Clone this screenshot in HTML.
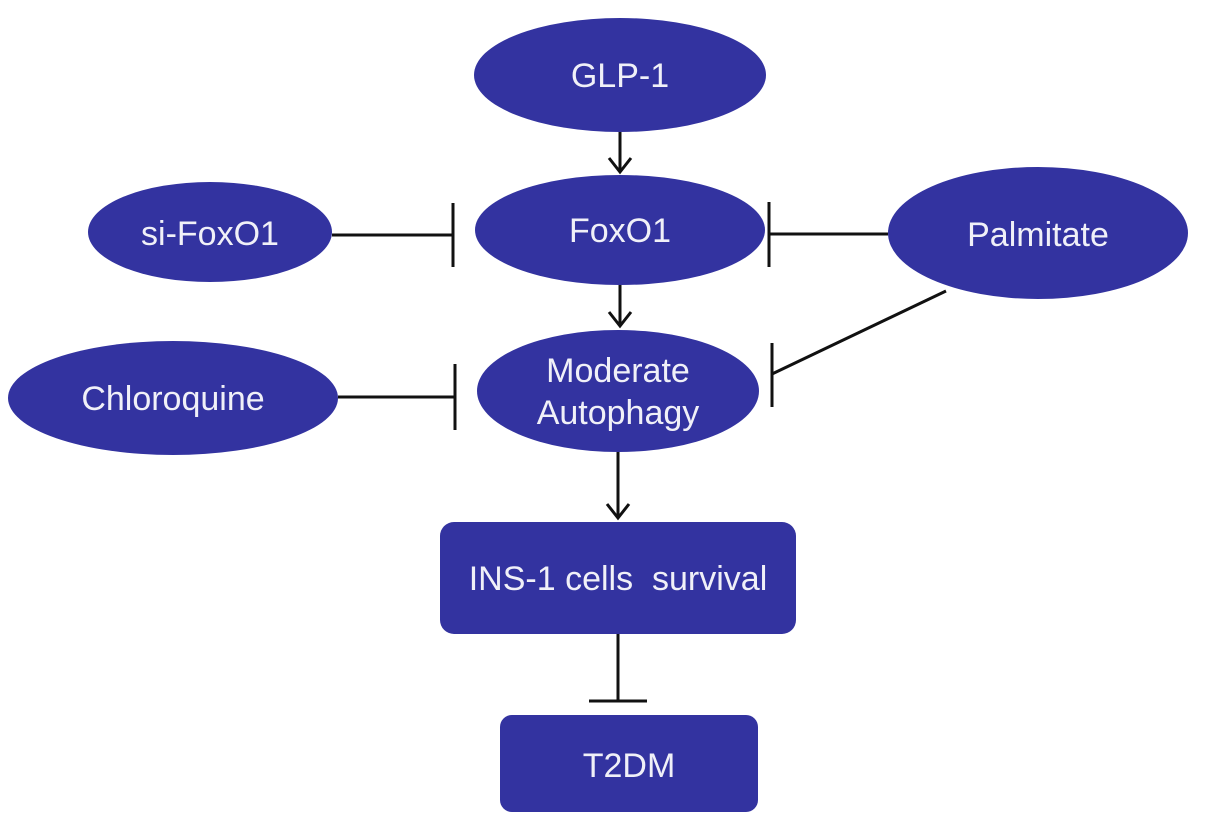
<!DOCTYPE html>
<html><head><meta charset="utf-8"><style>
html,body{margin:0;padding:0;background:#fff;}
svg{display:block;}
text{font-family:"Liberation Sans",Arial,sans-serif;fill:#f0f0f8;font-size:34px;text-anchor:middle;}
</style></head><body>
<svg width="1205" height="829" viewBox="0 0 1205 829">
<g fill="#3333a0">
<ellipse cx="620" cy="75" rx="146" ry="57"/>
<ellipse cx="620" cy="230" rx="145" ry="55"/>
<ellipse cx="210" cy="232" rx="122" ry="50"/>
<ellipse cx="1038" cy="233" rx="150" ry="66"/>
<ellipse cx="618" cy="391" rx="141" ry="61"/>
<ellipse cx="173" cy="398" rx="165" ry="57"/>
<rect x="440" y="522" width="356" height="112" rx="14"/>
<rect x="500" y="715" width="258" height="97" rx="12"/>
</g>
<g stroke="#111" stroke-width="3" fill="none">
<line x1="620" y1="132" x2="620" y2="172"/><polyline points="609,158 620,172 631,158"/>
<line x1="620" y1="285" x2="620" y2="326"/><polyline points="609,312 620,326 631,312"/>
<line x1="618" y1="452" x2="618" y2="518"/><polyline points="607,504 618,518 629,504"/>
<line x1="332" y1="235" x2="453" y2="235"/><line x1="453" y1="203" x2="453" y2="267"/>
<line x1="338" y1="397" x2="455" y2="397"/><line x1="455" y1="364" x2="455" y2="430"/>
<line x1="888" y1="234" x2="769" y2="234"/><line x1="769" y1="202" x2="769" y2="267"/>
<line x1="946" y1="291" x2="772" y2="374"/><line x1="772" y1="343" x2="772" y2="407"/>
<line x1="618" y1="634" x2="618" y2="701"/><line x1="589" y1="701" x2="647" y2="701"/>
</g>
<text x="620" y="87">GLP-1</text>
<text x="620" y="242">FoxO1</text>
<text x="210" y="245">si-FoxO1</text>
<text x="1038" y="246">Palmitate</text>
<text x="618" y="382">Moderate</text>
<text x="618" y="424">Autophagy</text>
<text x="173" y="410">Chloroquine</text>
<text x="618" y="590" xml:space="preserve">INS-1 cells  survival</text>
<text x="629" y="777">T2DM</text>
</svg>
</body></html>
